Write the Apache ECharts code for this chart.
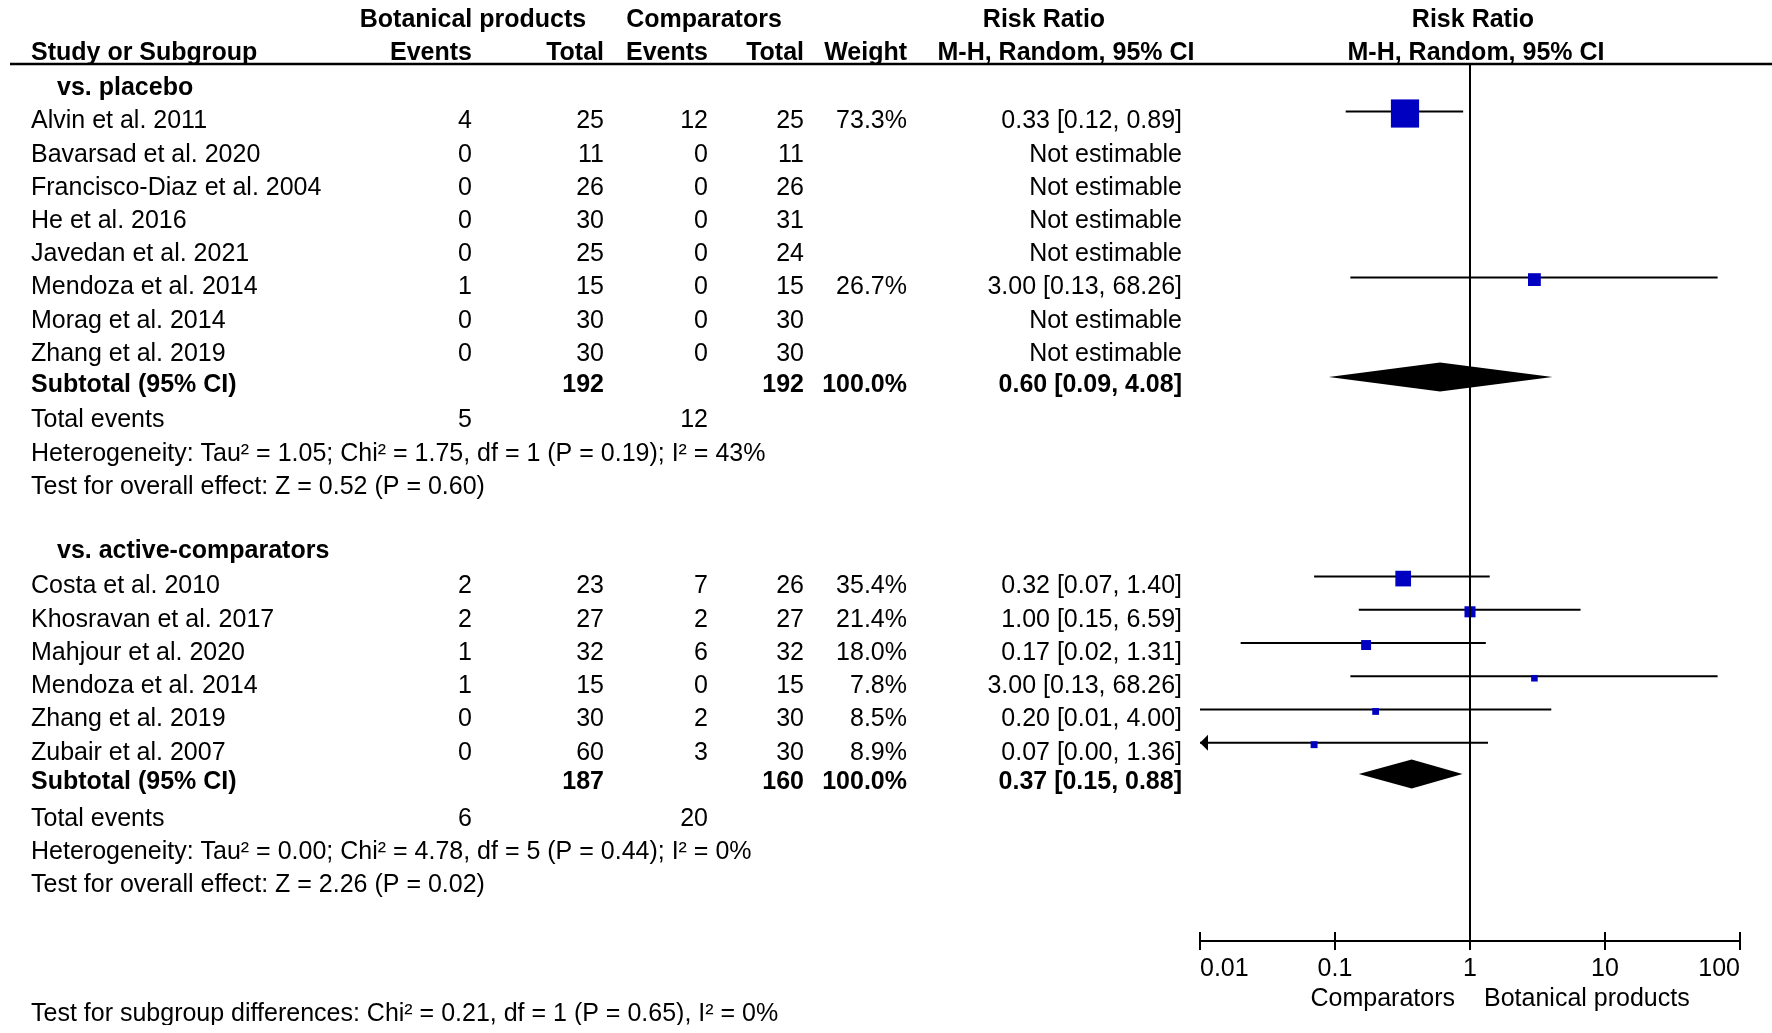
<!DOCTYPE html>
<html>
<head>
<meta charset="utf-8">
<script src="https://cdn.jsdelivr.net/npm/echarts@6/dist/echarts.min.js"></script>
<style>
html,body{margin:0;padding:0;background:#fff;}
#chart{width:1772px;height:1033px;}
</style>
</head>
<body>
<div id="chart"></div>
<script>
// ---------------- DATA ----------------
const headerTop = ['Botanical products', 'Comparators', 'Risk Ratio', 'Risk Ratio'];
const headerCols = ['Study or Subgroup', 'Events', 'Total', 'Events', 'Total', 'Weight', 'M-H, Random, 95% CI', 'M-H, Random, 95% CI'];
const groupTitles = ['vs. placebo', 'vs. active-comparators'];
const subtotalLabel = 'Subtotal (95% CI)';
const totalEventsLabel = 'Total events';
const notEstimable = 'Not estimable';

const placeboStudies = ['Alvin et al. 2011', 'Bavarsad et al. 2020', 'Francisco-Diaz et al. 2004', 'He et al. 2016', 'Javedan et al. 2021', 'Mendoza et al. 2014', 'Morag et al. 2014', 'Zhang et al. 2019'];
const placeboEventsB = [4, 0, 0, 0, 0, 1, 0, 0];
const placeboTotalB = [25, 11, 26, 30, 25, 15, 30, 30];
const placeboEventsC = [12, 0, 0, 0, 0, 0, 0, 0];
const placeboTotalC = [25, 11, 26, 31, 24, 15, 30, 30];
const placeboWeight = [73.3, null, null, null, null, 26.7, null, null];
const placeboRR = [0.33, null, null, null, null, 3.00, null, null];
const placeboLo = [0.12, null, null, null, null, 0.13, null, null];
const placeboHi = [0.89, null, null, null, null, 68.26, null, null];
const placeboSubtotalRR = [0.60, 0.09, 4.08];
const placeboHeterogeneity = 'Heterogeneity: Tau² = 1.05; Chi² = 1.75, df = 1 (P = 0.19); I² = 43%';
const placeboOverall = 'Test for overall effect: Z = 0.52 (P = 0.60)';

const activeStudies = ['Costa et al. 2010', 'Khosravan et al. 2017', 'Mahjour et al. 2020', 'Mendoza et al. 2014', 'Zhang et al. 2019', 'Zubair et al. 2007'];
const activeEventsB = [2, 2, 1, 1, 0, 0];
const activeTotalB = [23, 27, 32, 15, 30, 60];
const activeEventsC = [7, 2, 6, 0, 2, 3];
const activeTotalC = [26, 27, 32, 15, 30, 30];
const activeWeight = [35.4, 21.4, 18.0, 7.8, 8.5, 8.9];
const activeRR = [0.32, 1.00, 0.17, 3.00, 0.20, 0.07];
const activeLo = [0.07, 0.15, 0.02, 0.13, 0.01, 0.00];
const activeHi = [1.40, 6.59, 1.31, 68.26, 4.00, 1.36];
const activeSubtotalRR = [0.37, 0.15, 0.88];
const activeHeterogeneity = 'Heterogeneity: Tau² = 0.00; Chi² = 4.78, df = 5 (P = 0.44); I² = 0%';
const activeOverall = 'Test for overall effect: Z = 2.26 (P = 0.02)';

const subgroupTest = 'Test for subgroup differences: Chi² = 0.21, df = 1 (P = 0.65), I² = 0%';
const tickLabels = ['0.01', '0.1', '1', '10', '100'];
const favourLabels = ['Comparators', 'Botanical products'];

// ---------------- LAYOUT ----------------
const W = 1772, H = 1033;
const ROW0 = 121.5, PITCH = 33.22;       // pixel y of row 0 and row pitch
const HEAD_LINE_Y = 64, AXIS_Y = 941;    // header rule and axis line
const PLOT_L = 1200, PLOT_R = 1740;
const AX_MIN = 0.01, AX_MAX = 100;
const FONT = '"Liberation Sans", Arial, Helvetica, sans-serif';
const FS = 25;
const BLUE = '#0000C0';
const LINE_DY = -10, SQ_DY = -8, DIA_DY = -8;
const CUT_Y = 1025;                      // reference image is cut just below the last line
const rowOfPx = px => (px - ROW0) / PITCH;

const COL = { name: 31, group: 57, evB: 472, totB: 604, evC: 708, totC: 804, weight: 907, rr: 1182 };

const fmtCI = (r, l, h) => r.toFixed(2) + ' [' + l.toFixed(2) + ', ' + h.toFixed(2) + ']';
const sum = a => a.reduce((s, v) => s + (v || 0), 0);

// ---------------- BUILD TABLE CELLS ----------------
const cells = [];
function cell(x, row, text, align, bold) { cells.push({ x, row, text: String(text), align, bold: !!bold }); }

// headers
const hr1 = -3.05, hr2 = -2.07;
cell(473, hr1, headerTop[0], 'center', true);
cell(704, hr1, headerTop[1], 'center', true);
cell(1044, hr1, headerTop[2], 'center', true);
cell(1473, hr1, headerTop[3], 'center', true);
cell(COL.name, hr2, headerCols[0], 'left', true);
cell(COL.evB, hr2, headerCols[1], 'right', true);
cell(COL.totB, hr2, headerCols[2], 'right', true);
cell(COL.evC, hr2, headerCols[3], 'right', true);
cell(COL.totC, hr2, headerCols[4], 'right', true);
cell(COL.weight, hr2, headerCols[5], 'right', true);
cell(1066, hr2, headerCols[6], 'center', true);
cell(1476, hr2, headerCols[7], 'center', true);

const forestData = [];
const diamondData = [];

function addGroup(title, titleRow, firstRow, studies, eB, tB, eC, tC, wt, rr, lo, hi, sub, het, overall, subRow) {
  cell(COL.group, titleRow, title, 'left', true);
  studies.forEach((s, i) => {
    const r = firstRow + i;
    cell(COL.name, r, s, 'left');
    cell(COL.evB, r, eB[i], 'right');
    cell(COL.totB, r, tB[i], 'right');
    cell(COL.evC, r, eC[i], 'right');
    cell(COL.totC, r, tC[i], 'right');
    if (wt[i] != null) cell(COL.weight, r, wt[i].toFixed(1) + '%', 'right');
    if (rr[i] != null) {
      cell(COL.rr, r, fmtCI(rr[i], lo[i], hi[i]), 'right');
      forestData.push([rr[i], lo[i], hi[i], wt[i], r]);
    } else {
      cell(COL.rr, r, notEstimable, 'right');
    }
  });
  cell(COL.name, subRow, subtotalLabel, 'left', true);
  cell(COL.totB, subRow, sum(tB), 'right', true);
  cell(COL.totC, subRow, sum(tC), 'right', true);
  cell(COL.weight, subRow, sum(wt).toFixed(1) + '%', 'right', true);
  cell(COL.rr, subRow, fmtCI(sub[0], sub[1], sub[2]), 'right', true);
  diamondData.push([sub[0], sub[1], sub[2], subRow]);
  const teRow = firstRow + studies.length + 1;
  cell(COL.name, teRow, totalEventsLabel, 'left');
  cell(COL.evB, teRow, sum(eB), 'right');
  cell(COL.evC, teRow, sum(eC), 'right');
  cell(COL.name, teRow + 1, het, 'left');
  cell(COL.name, teRow + 2, overall, 'left');
}

addGroup(groupTitles[0], -1.02, 0, placeboStudies, placeboEventsB, placeboTotalB, placeboEventsC, placeboTotalC,
  placeboWeight, placeboRR, placeboLo, placeboHi, placeboSubtotalRR, placeboHeterogeneity, placeboOverall, 7.93);
addGroup(groupTitles[1], 12.93, 14, activeStudies, activeEventsB, activeTotalB, activeEventsC, activeTotalC,
  activeWeight, activeRR, activeLo, activeHi, activeSubtotalRR, activeHeterogeneity, activeOverall, 19.88);

cell(COL.name, rowOfPx(1014), subgroupTest, 'left');
cell(1455, rowOfPx(999), favourLabels[0], 'right');
cell(1484, rowOfPx(999), favourLabels[1], 'left');

// ---------------- CHART ----------------
const chart = echarts.init(document.getElementById('chart'), null, { renderer: 'canvas' });

const forestYMin = rowOfPx(HEAD_LINE_Y), forestYMax = rowOfPx(AXIS_Y);

const option = {
  animation: false,
  backgroundColor: '#fff',
  grid: [
    { left: 0, top: 0, width: W, height: H, outerBoundsMode: 'none', containLabel: false },
    { left: PLOT_L, top: HEAD_LINE_Y, width: PLOT_R - PLOT_L, height: AXIS_Y - HEAD_LINE_Y, outerBoundsMode: 'none', containLabel: false }
  ],
  xAxis: [
    { gridIndex: 0, type: 'value', min: 0, max: W, show: false },
    {
      gridIndex: 1, type: 'log', logBase: 10, min: AX_MIN, max: AX_MAX, interval: 1, position: 'bottom',
      axisLine: { show: true, onZero: false, lineStyle: { color: '#000', width: 2 } },
      axisTick: { show: true, inside: false, length: 9, lineStyle: { color: '#000', width: 2 } },
      axisLabel: {
        show: true, color: '#000', fontSize: FS, fontFamily: FONT, margin: 16,
        alignMinLabel: 'left', alignMaxLabel: 'right',
        formatter: v => tickLabels[Math.round(Math.log10(v)) + 2]
      },
      splitLine: { show: false }, minorTick: { show: false }, minorSplitLine: { show: false }
    },
    {
      gridIndex: 1, type: 'log', logBase: 10, min: AX_MIN, max: AX_MAX, interval: 1, position: 'bottom', offset: 0,
      axisLine: { show: false, onZero: false },
      axisTick: { show: true, inside: true, length: 9, lineStyle: { color: '#000', width: 2 } },
      axisLabel: { show: false }, splitLine: { show: false }
    }
  ],
  yAxis: [
    { gridIndex: 0, type: 'value', inverse: true, min: -ROW0 / PITCH, max: (H - ROW0) / PITCH, show: false },
    { gridIndex: 1, type: 'value', inverse: true, min: forestYMin, max: forestYMax, show: false }
  ],
  graphic: [
    { type: 'rect', z: 1000, silent: true, shape: { x: 0, y: CUT_Y, width: W, height: H - CUT_Y }, style: { fill: '#fff' } }
  ],
  series: [
    // header rule
    {
      type: 'line', xAxisIndex: 0, yAxisIndex: 0, symbol: 'none', silent: true,
      lineStyle: { color: '#000', width: 2.5 },
      data: [[10, rowOfPx(HEAD_LINE_Y)], [W, rowOfPx(HEAD_LINE_Y)]]
    },
    // line of no effect
    {
      type: 'line', xAxisIndex: 1, yAxisIndex: 1, symbol: 'none', silent: true,
      lineStyle: { color: '#000', width: 2 },
      data: [[1, forestYMin], [1, forestYMax]]
    },
    // study CIs and squares
    {
      type: 'custom', xAxisIndex: 1, yAxisIndex: 1, silent: true,
      encode: { x: [0, 1, 2], y: 4 },
      data: forestData,
      renderItem: (params, api) => {
        const rr = api.value(0), lo = api.value(1), hi = api.value(2), w = api.value(3), row = api.value(4);
        const yc = api.coord([1, row])[1];
        const xMin = api.coord([AX_MIN, row])[0], xMax = api.coord([AX_MAX, row])[0];
        const xLo = lo < AX_MIN ? xMin : api.coord([lo, row])[0];
        const xHi = hi > AX_MAX ? xMax : api.coord([hi, row])[0];
        const xc = api.coord([rr, row])[0];
        const yl = yc + LINE_DY;
        const size = 4 + 0.33 * w;
        const children = [
          { type: 'line', shape: { x1: xLo, y1: yl, x2: xHi, y2: yl }, style: { stroke: '#000', lineWidth: 2 } },
          { type: 'rect', shape: { x: xc - size / 2, y: yc + SQ_DY - size / 2, width: size, height: size }, style: { fill: BLUE } }
        ];
        if (lo < AX_MIN) children.push({ type: 'polygon', shape: { points: [[xMin, yl], [xMin + 8, yl - 8], [xMin + 8, yl + 8]] }, style: { fill: '#000' } });
        if (hi > AX_MAX) children.push({ type: 'polygon', shape: { points: [[xMax, yl], [xMax - 8, yl - 8], [xMax - 8, yl + 8]] }, style: { fill: '#000' } });
        return { type: 'group', children };
      }
    },
    // subtotal diamonds
    {
      type: 'custom', xAxisIndex: 1, yAxisIndex: 1, silent: true,
      encode: { x: [0, 1, 2], y: 3 },
      data: diamondData,
      renderItem: (params, api) => {
        const row = api.value(3);
        const c = api.coord([api.value(0), row]);
        const l = api.coord([api.value(1), row])[0];
        const r = api.coord([api.value(2), row])[0];
        const y = c[1] + DIA_DY, hh = 14.5;
        return { type: 'polygon', shape: { points: [[l, y], [c[0], y - hh], [r, y], [c[0], y + hh]] }, style: { fill: '#000' } };
      }
    },
    // table text
    {
      type: 'custom', xAxisIndex: 0, yAxisIndex: 0, silent: true,
      encode: { x: 0, y: 1 },
      data: cells.map(c => [c.x, c.row]),
      renderItem: (params, api) => {
        const c = cells[params.dataIndex];
        const p = api.coord([api.value(0), api.value(1)]);
        return {
          type: 'text', x: p[0], y: p[1],
          style: {
            text: c.text, fill: '#000',
            font: (c.bold ? 'bold ' : '') + FS + 'px ' + FONT,
            align: c.align, verticalAlign: 'middle'
          }
        };
      }
    }
  ]
};
chart.setOption(option);
</script>
</body>
</html>
